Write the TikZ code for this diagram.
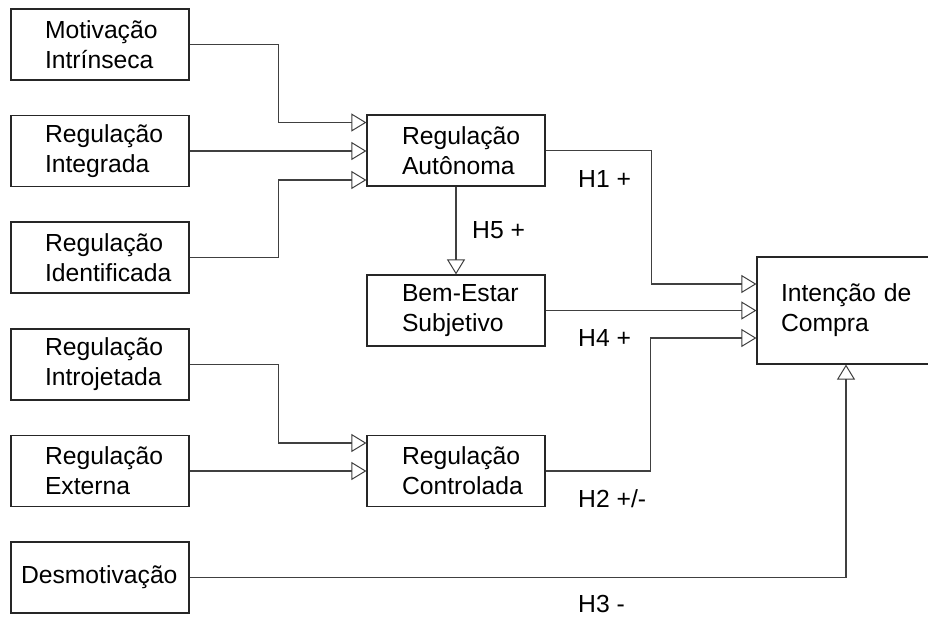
\documentclass[tikz,border=0pt]{standalone}
\usepackage{fontspec}
\setmainfont{Liberation Sans}
\usetikzlibrary{arrows.meta}
\begin{document}
\begin{tikzpicture}[x=1pt,y=-1pt,
  every node/.style={font=\fontsize{24.7}{30}\selectfont},
  box/.style={draw=black!85, line width=1.2pt, fill=white, align=left,
    minimum width=178pt, minimum height=71pt, inner ysep=0pt},
  widebox/.style={inner xsep=34pt, text width=110pt},
  midbox/.style={inner xsep=35pt, text width=108pt},
  conn/.style={draw=black!75, line width=1.1pt},
  arr/.style={conn, -{Triangle[open, length=15pt, width=18pt, line width=1pt]}},
  hyp/.style={anchor=base west, inner sep=0pt}
]
\clip (0,0) rectangle (928,616);
\fill[white] (0,0) rectangle (928,616);

% source constructs (left column)
\node[box, widebox] (mot) at (100,44.5)  {Motivação\\Intrínseca};
\node[box, widebox] (ing) at (100,151)   {Regulação\\Integrada};
\node[box, widebox] (ide) at (100,257.5) {\mbox{Regulação}\\\mbox{Identificada}};
\node[box, widebox] (itj) at (100,364.5) {Regulação\\Introjetada};
\node[box, widebox] (ext) at (100,471)   {Regulação\\Externa};
\node[box, inner xsep=10pt, text width=158pt] (des) at (100,577.5) {\mbox{Desmotivação}};

% mediating constructs (middle column)
\node[box, midbox] (aut) at (456,150.5) {\mbox{Regulação}\\\mbox{Autônoma}};
\node[box, midbox] (bes) at (456,310.5) {\mbox{Bem-Estar}\\\mbox{Subjetivo}};
\node[box, midbox] (ctl) at (456,471)   {\mbox{Regulação}\\\mbox{Controlada}};

% outcome
\node[box, inner xsep=24pt, text width=130pt, minimum height=107pt] (ic) at (846,310.5) {\mbox{Intenção de}\\Compra};

% inputs to autonomous regulation
\draw[arr] (mot.east) -- ++(89,0) |- ([yshift=28pt]aut.west);
\draw[arr] (ing.east) -- (ing.east -| aut.west);
\draw[arr] (ide.east) -- ++(89,0) |- ([yshift=-29.5pt]aut.west);

% inputs to controlled regulation
\draw[arr] (itj.east) -- ++(89,0) |- ([yshift=28pt]ctl.west);
\draw[arr] (ext.east) -- (ext.east -| ctl.west);

% hypotheses
\draw[arr] (aut.south) -- (bes.north);
\draw[arr] (aut.east) -- ++(106,0) |- ([yshift=26.5pt]ic.west);
\draw[arr] (bes.east) -- (bes.east -| ic.west);
\draw[arr] (ctl.east) -- ++(105,0) |- ([yshift=-27.5pt]ic.west);
\draw[arr] (des.east) -| (ic.south);

% hypothesis labels
\node[hyp] (h5) at (472,238) {H5 +};
\node[hyp] (h1) at (578,187) {H1 +};
\node[hyp] (h4) at (578,346) {H4 +};
\node[hyp] (h2) at (578,507) {H2 +/-};
\node[hyp] (h3) at (578,612) {H3 -};
\end{tikzpicture}
\end{document}
